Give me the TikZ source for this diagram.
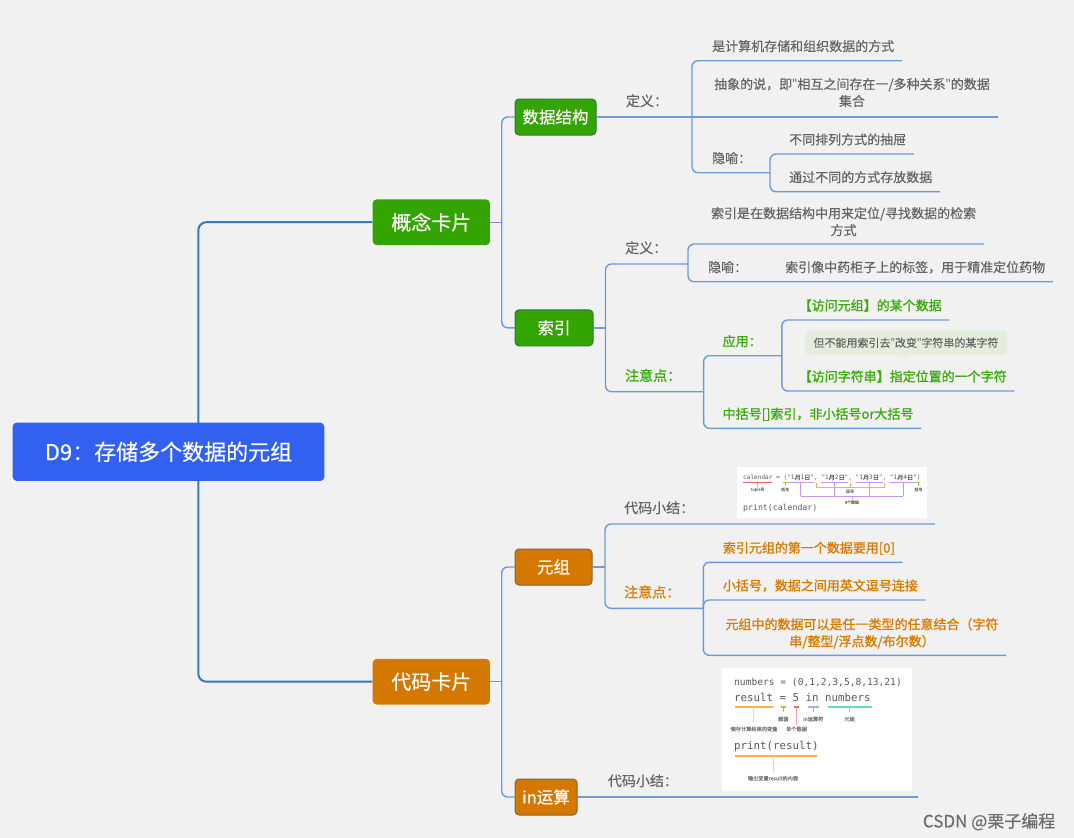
\documentclass[tikz,border=0pt]{standalone}
\usepackage{fontspec}
\setmainfont{Noto Sans CJK SC}[FakeBold=0.35]
\setmonofont{DejaVu Sans Mono}
\newfontfamily\strongfont{Noto Sans CJK SC}[FakeBold=1.1]
\newfontfamily\quotefont{Noto Sans}
\usetikzlibrary{positioning}
\pgfdeclarelayer{paper}
\pgfdeclarelayer{links}
\pgfsetlayers{paper,links,main}

\newcommand\fsz[2]{\fontsize{#1}{#2}\selectfont}
\newcommand\zh[1]{{\rmfamily #1}}
\newcommand\qt{{\quotefont"}}

\definecolor{paper}{RGB}{241,241,241}
\definecolor{rootblue}{RGB}{50,96,240}
\definecolor{cardgreen}{RGB}{52,165,0}
\definecolor{cardorange}{RGB}{212,120,0}
\definecolor{greenedge}{RGB}{40,120,70}
\definecolor{orangeedge}{RGB}{130,100,70}
\definecolor{trunkblue}{RGB}{58,118,200}
\definecolor{linkblue}{RGB}{108,155,215}
\definecolor{txtgray}{RGB}{100,100,100}
\definecolor{txtgreen}{RGB}{58,170,10}
\definecolor{txtorange}{RGB}{214,124,0}
\definecolor{tipgreen}{RGB}{229,238,221}
\definecolor{codegray}{RGB}{90,90,90}
\definecolor{notegray}{RGB}{125,125,125}
\definecolor{markgray}{RGB}{110,110,110}
\definecolor{hlred}{RGB}{240,100,100}
\definecolor{hlgreen}{RGB}{150,210,40}
\definecolor{hlpurple}{RGB}{200,150,240}
\definecolor{hlorange}{RGB}{255,176,70}
\definecolor{hllav}{RGB}{170,170,240}
\definecolor{hlteal}{RGB}{100,220,190}

\tikzset{
  card/.style={rounded corners=4pt, text=white, inner sep=0pt},
  rootcard/.style={card, fill=rootblue, minimum width=311.6pt, minimum height=58.3pt, font=\fsz{22}{26}},
  maincard/.style={card, minimum width=117.3pt, minimum height=45.7pt, font=\fsz{20}{24}},
  subcard/.style={card, minimum height=36pt, line width=1pt, font=\fsz{16.5}{20}},
  leaf/.style={inner xsep=7.5pt, inner ysep=0pt, text height=10pt, text depth=9.4pt,
    text=txtgray, font=\fsz{13}{17}, anchor=south west},
  leafwide/.style={inner xsep=7.5pt, inner ysep=0pt, text=txtgray, align=center, font=\fsz{13}{17}},
  topic/.style={leaf, text depth=10.7pt, font=\fsz{14}{17}},
  strong/.style={font=\strongfont\fsz{13}{17}},
  strongtopic/.style={font=\strongfont\fsz{14}{17}},
  trunk/.style={draw=trunkblue, line width=2pt, rounded corners=8pt},
  branch/.style={draw=linkblue, line width=1.4pt, rounded corners=6pt},
  codecard/.style={fill=white, inner sep=0pt},
  codeline/.style={inner sep=0pt, text=codegray, anchor=west},
  tick/.style={line width=0.9pt},
  stem/.style={line width=0.5pt},
  note/.style={inner sep=0pt, text=notegray, font=\fsz{4}{5}},
  notetwo/.style={inner sep=0pt, text=notegray, font=\fsz{5.2}{6}},
}

\begin{document}
\begin{tikzpicture}[x=1pt,y=-1pt]
  \useasboundingbox (0,0) rectangle (1074,838);
  \begin{pgfonlayer}{paper}
    \fill[paper] (0,0) rectangle (1074,838);
  \end{pgfonlayer}

  % cards
  \node[rootcard] (root) at (168.5,451.8) {D9：存储多个数据的元组};
  \node[maincard, fill=cardgreen] (concept) at (431.3,222.2) {概念卡片};
  \node[maincard, fill=cardorange] (code) at (431.3,681.7) {代码卡片};
  \node[subcard, fill=cardgreen, draw=greenedge, minimum width=81pt] (ds) at (555.5,117) {数据结构};
  \node[subcard, fill=cardgreen, draw=greenedge, minimum width=78pt] (idx) at (554,327.8) {索引};
  \node[subcard, fill=cardorange, draw=orangeedge, minimum width=77pt] (tup) at (553.5,567) {元组};
  \node[subcard, fill=cardorange, draw=orangeedge, minimum width=62pt] (inop) at (546,797) {in运算};

  % forks
  \coordinate (trunkfork) at (198.3,451.8);
  \coordinate (ccfork) at (501.7,222.2);
  \coordinate (cdfork) at (501.7,681.7);
  \coordinate (dsdef) at (692,117);
  \coordinate (dsmeta) at (770,172.7);
  \coordinate (ixfork) at (605.5,327.8);
  \coordinate (ixtop) at (688,244);
  \coordinate (ixdef) at (688,264);
  \coordinate (ixnote) at (703.6,391.7);
  \coordinate (ixapp) at (781.8,355.7);
  \coordinate (tpfork) at (605,567);
  \coordinate (tpnote) at (703.3,608.3);
  \coordinate (tpbot) at (703.3,655.3);
  \coordinate (sumAend) at (935,524);
  \coordinate (sumBend) at (918.3,797);

  % data structure
  \node[topic, anchor=south] (dsdeflbl) at (647,117) {定义：};
  \node[leaf] (t11) at (704.5,60.7) {是计算机存储和组织数据的方式};
  \node[leafwide] (t12) at (852,92.5) {抽象的说，即\qt 相互之间存在一/多种关系\qt 的数据\\集合};
  \node[leaf] (t13) at (704.5,172.7) {隐喻：};
  \node[leaf] (t131) at (781.5,154) {不同排列方式的抽屉};
  \node[leaf] (t132) at (781.5,191.7) {通过不同的方式存放数据};

  % index
  \node[topic] (ixdeflbl) at (617.5,264) {定义：};
  \node[leafwide] (t21) at (843.6,221.7) {索引是在数据结构中用来定位/寻找数据的检索\\方式};
  \node[leaf] (t22) at (700.5,281.7) {隐喻：};
  \node[leaf] (t22a) at (777.5,281.7) {索引像中药柜子上的标签，用于精准定位药物};
  \node[topic, strongtopic, text=txtgreen] (ixnotelbl) at (617.5,391.7) {注意点：};
  \node[leaf, strong, text=txtgreen] (app) at (715,355.7) {应用：};
  \node[leaf, strong, text=txtgreen] (t31) at (791,320) {【访问元组】的某个数据};
  \node[fill=tipgreen, rounded corners=4pt, inner sep=0pt, minimum width=202pt, minimum height=25pt,
    text=txtgray, font=\fsz{11}{13}] (tip) at (906,342.7) {但不能用索引去\qt 改变\qt 字符串的某字符};
  \fill[tipgreen] ([xshift=-4pt]tip.south) -- ([xshift=4pt]tip.south) -- ([yshift=-4pt]tip.south) -- cycle;
  \node[leaf, strong, text=txtgreen] (t32) at (791,391) {【访问字符串】指定位置的一个字符};
  \node[leaf, strong, text=txtgreen] (t33) at (715,428.3) {中括号[]索引，非小括号or大括号};

  % tuple
  \node[topic] (sumA) at (616.5,524) {代码小结：};
  \node[topic, strongtopic, text=txtorange] (tpnotelbl) at (616.5,608.3) {注意点：};
  \node[leaf, strong, text=txtorange] (t41) at (715.2,562.3) {索引元组的第一个数据要用[0]};
  \node[leaf, strong, text=txtorange] (t42) at (715.2,600) {小括号，数据之间用英文逗号连接};
  \node[leafwide, strong, text=txtorange] (t43) at (862,633.3) {元组中的数据可以是任一类型的任意结合（字符\\串/整型/浮点数/布尔数）};

  % in
  \node[topic] (sumB) at (600.2,797) {代码小结：};

  % connectors
  \begin{pgfonlayer}{links}
    \draw[trunk] (concept.west) -| (trunkfork) |- (code.west);
    \draw[branch] (concept.east) -- (ccfork);
    \draw[branch] (ds.west) -| (ccfork) |- (idx.west);
    \draw[branch] (code.east) -- (cdfork);
    \draw[branch] (tup.west) -| (cdfork) |- (inop.west);

    \draw[branch] (ds.east) -- (dsdef) -- (t12.east |- dsdef);
    \draw[branch] (t11.south east) -| (dsdef) |- (dsmeta);
    \draw[branch] (t131.south east) -| (dsmeta) |- (t132.south east);

    \draw[branch] (idx.east) -- (ixfork);
    \draw[branch] (ixdef) -| (ixfork) |- (ixnote);
    \draw[branch] (t21.east |- ixtop) -| (ixdef) |- (t22a.south east);
    \draw[branch] (ixapp) -| (ixnote) |- (t33.south east);
    \draw[branch] (t31.south east) -| (ixapp) |- (t32.south east);

    \draw[branch] (tup.east) -- (tpfork);
    \draw[branch] (sumAend) -| (tpfork) |- (tpnote);
    \draw[branch] (t41.south east) -| (tpnote) |- (t43.east |- tpbot);
    \draw[branch] (tpnote) |- (t42.south east);

    \draw[branch] (inop.east) -- (sumBend);
  \end{pgfonlayer}

  % code card: calendar
  \node[codecard, minimum width=190pt, minimum height=51pt] (calcard) at (832,492.5) {};
  \node[codeline, font=\ttfamily\fsz{6.1}{7}] (calline) at (743,477.7)
    {calendar = ("1\zh{月}1\zh{日}", "1\zh{月}2\zh{日}", "1\zh{月}3\zh{日}", "1\zh{月}4\zh{日}")};
  \node[codeline, font=\ttfamily\fsz{8.2}{9}] (calprint) at (743,508.7) {print(calendar)};
  \draw[tick, hlred] (743,482.7) -- (772.4,482.7);
  \draw[stem, hlred!60] (757.7,482.7) -- (757.7,486.5);
  \node[note] (calname) at (757.7,489.5) {tuple名};
  \draw[tick, hlgreen] (783.4,482.7) -- (787.1,482.7) (916.7,482.7) -- (920.4,482.7);
  \draw[stem, hlgreen] (785.2,482.7) -- (785.2,486) (918.5,482.7) -- (918.5,486);
  \node[note] (calopen) at (785.2,489.5) {括号};
  \node[note] (calclose) at (918.5,489.5) {括号};
  \foreach \a/\b in {787.1/814, 821.3/848.2, 855.6/882.5, 889.8/916.7}
    \draw[tick, hlpurple] (\a,482.7) -- (\b,482.7);
  \foreach \c in {800.5, 834.7, 869, 903.2}
    \draw[stem, hlpurple] (\c,482.7) -- (\c,496.3);
  \draw[stem, hlpurple] (800.5,496.3) -- (903.2,496.3) (851.9,496.3) -- (851.9,499);
  \node[note] (calfour) at (851.9,502.3) {4个数据};
  \foreach \c in {815.8, 850, 884.3}
    \draw[stem, hlorange] (\c,482.7) -- (\c,487.5);
  \draw[stem, hlorange] (815.8,487.5) -- (884.3,487.5);
  \node[note] (calcomma) at (850,491.3) {逗号};

  % code card: in
  \node[codecard, minimum width=190pt, minimum height=122.7pt] (incard) at (817,729.3) {};
  \node[codeline, font=\ttfamily\fsz{9.6}{11}] (numline) at (734,682.7) {numbers = (0,1,2,3,5,8,13,21)};
  \node[codeline, font=\ttfamily\fsz{10.8}{12}] (resline) at (734,697.3) {result = 5 in numbers};
  \node[codeline, font=\ttfamily\fsz{10.8}{12}] (prtline) at (734,746) {print(result)};
  \draw[line width=2pt, hlorange] (735,706.7) -- (772.7,706.7);
  \draw[stem, hlorange!60] (753.7,706.7) -- (753.7,721.7);
  \node[notetwo] (resvar) at (754,729) {储存计算结果的变量};
  \draw[line width=2pt, hlgreen] (780.7,706.7) -- (786,706.7);
  \draw[stem, hlgreen] (783.3,706.7) -- (783.3,711.5);
  \node[notetwo] (resset) at (783.3,719) {赋值};
  \draw[line width=2pt, hlred] (794,706.7) -- (799,706.7);
  \draw[stem, hlred!60] (796.5,706.7) -- (796.5,724.5);
  \node[notetwo] (resone) at (796.5,729) {单个数据};
  \draw[line width=2pt, hllav] (807.7,706.7) -- (819,706.7);
  \draw[stem, hllav] (813.3,706.7) -- (813.3,711.5);
  \node[notetwo] (resin) at (813.3,719) {in运算符};
  \draw[line width=2pt, hlteal] (827.7,706.7) -- (871.7,706.7);
  \draw[stem, hlteal] (849.7,706.7) -- (849.7,711.5);
  \node[notetwo] (restup) at (849.7,719) {元组};
  \draw[line width=2pt, hlorange] (735,755.7) -- (817,755.7);
  \draw[stem, hlorange!60] (773,755.7) -- (773,771.7);
  \node[notetwo] (resout) at (773,778.3) {输出变量result的内容};

  \node[anchor=west, inner sep=0pt, text=markgray, font=\fsz{17}{20}] (mark) at (922.7,821.7) {CSDN @栗子编程};
\end{tikzpicture}
\end{document}
